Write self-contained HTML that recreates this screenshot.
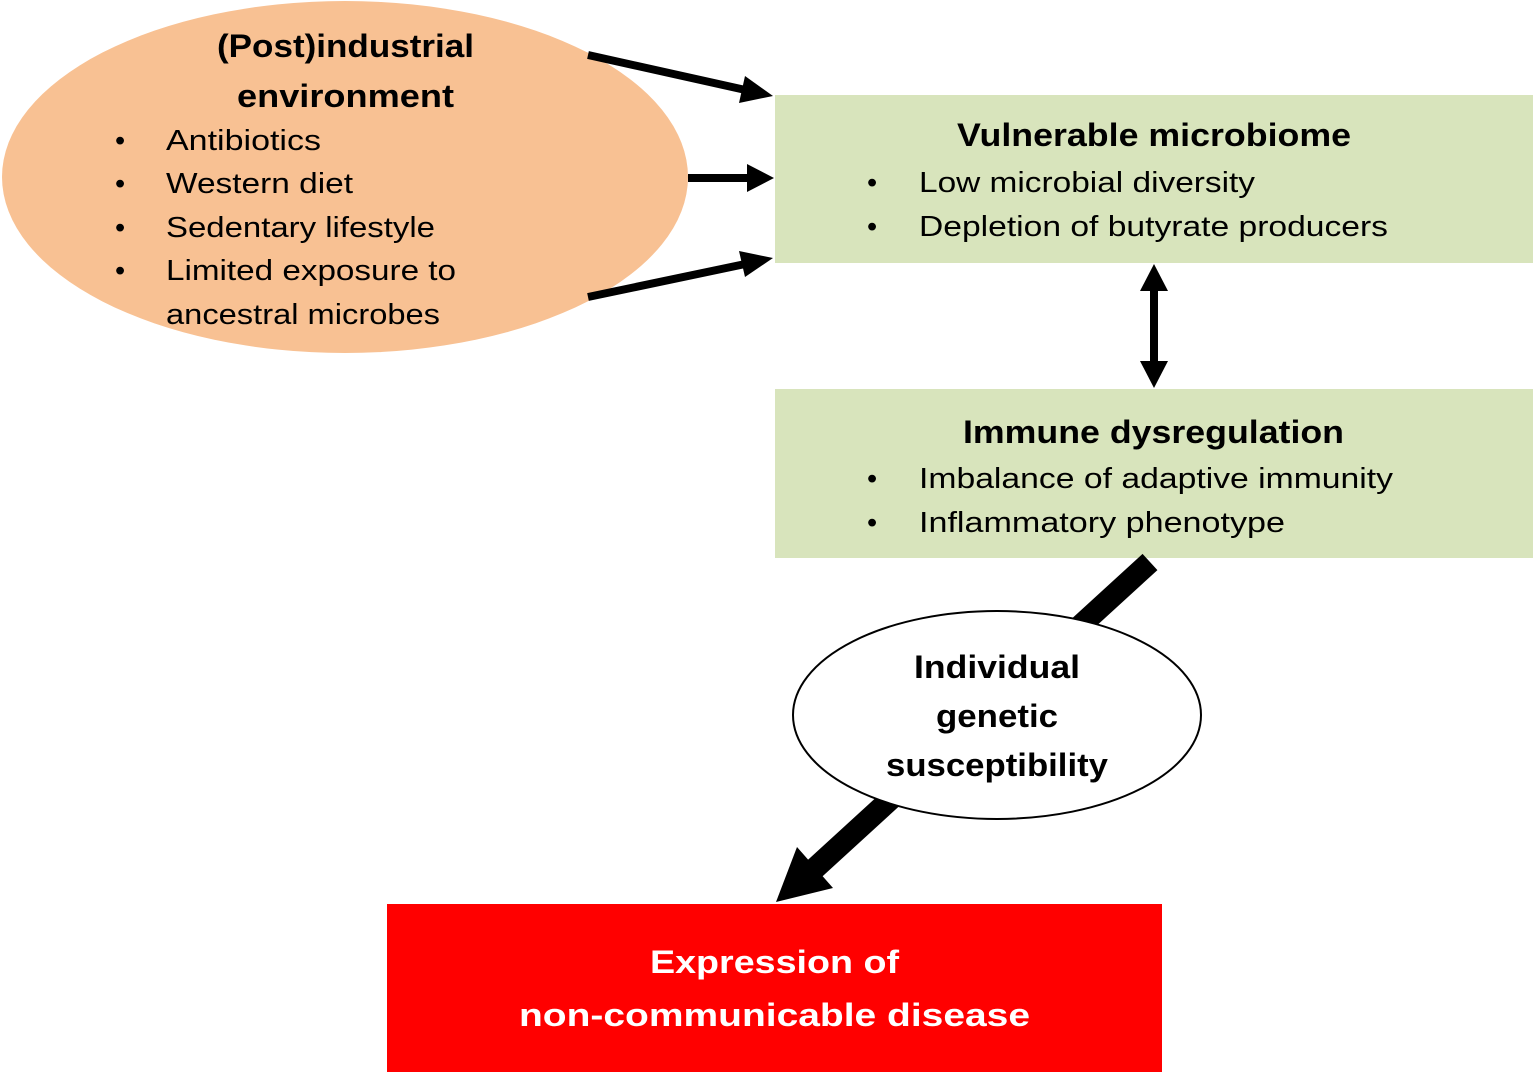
<!DOCTYPE html>
<html><head><meta charset="utf-8"><style>
html,body{margin:0;padding:0;background:#fff;}
svg{display:block;}
text{font-family:"Liberation Sans",sans-serif;fill:#000;}
</style></head><body>
<svg width="1535" height="1074" viewBox="0 0 1535 1074" xmlns="http://www.w3.org/2000/svg">
<ellipse cx="345" cy="177" rx="343" ry="176" fill="#F8C193"/>
<rect x="775" y="95" width="758" height="168" fill="#D8E4BC"/>
<rect x="775" y="389" width="758" height="169" fill="#D8E4BC"/>
<rect x="387" y="904" width="775" height="168" fill="#FF0000"/>
<g stroke="#000" stroke-width="8" fill="none">
<line x1="588" y1="55" x2="750" y2="91"/>
<line x1="688" y1="178" x2="748" y2="178"/>
<line x1="588" y1="297" x2="750" y2="263"/>
<line x1="1154" y1="288" x2="1154" y2="364"/>
</g>
<polygon points="773,96 745,76 739,103" fill="#000"/>
<polygon points="774,178 747,164 747,192" fill="#000"/>
<polygon points="773,258 739,251 745,277" fill="#000"/>
<polygon points="1154,264 1140,291 1168,291" fill="#000"/>
<polygon points="1154,388 1140,361 1168,361" fill="#000"/>
<line x1="1150" y1="562" x2="800" y2="882" stroke="#000" stroke-width="22"/>
<polygon points="776,902 797,847 833,888" fill="#000"/>
<ellipse cx="997" cy="715" rx="204" ry="104" fill="#fff" stroke="#000" stroke-width="2"/>
<g font-weight="bold" font-size="32" lengthAdjust="spacingAndGlyphs">
<text x="217" y="57" textLength="257" lengthAdjust="spacingAndGlyphs">(Post)industrial</text>
<text x="237" y="107" textLength="217" lengthAdjust="spacingAndGlyphs">environment</text>
<text x="957" y="146" textLength="394" lengthAdjust="spacingAndGlyphs">Vulnerable microbiome</text>
<text x="963" y="443" textLength="381" lengthAdjust="spacingAndGlyphs">Immune dysregulation</text>
<text x="914" y="678" textLength="166" lengthAdjust="spacingAndGlyphs">Individual</text>
<text x="936" y="727" textLength="122" lengthAdjust="spacingAndGlyphs">genetic</text>
<text x="886" y="776" textLength="222" lengthAdjust="spacingAndGlyphs">susceptibility</text>
<text x="650" y="973" textLength="249" lengthAdjust="spacingAndGlyphs" style="fill:#fff">Expression of</text>
<text x="519" y="1026" textLength="511" lengthAdjust="spacingAndGlyphs" style="fill:#fff">non-communicable disease</text>
</g>
<g font-size="29">
<text x="115" y="150">•</text><text x="166" y="150" textLength="155" lengthAdjust="spacingAndGlyphs">Antibiotics</text>
<text x="115" y="193">•</text><text x="166" y="193" textLength="187" lengthAdjust="spacingAndGlyphs">Western diet</text>
<text x="115" y="237">•</text><text x="166" y="237" textLength="269" lengthAdjust="spacingAndGlyphs">Sedentary lifestyle</text>
<text x="115" y="280">•</text><text x="166" y="280" textLength="290" lengthAdjust="spacingAndGlyphs">Limited exposure to</text>
<text x="166" y="324" textLength="274" lengthAdjust="spacingAndGlyphs">ancestral microbes</text>
<text x="867" y="192">•</text><text x="919" y="192" textLength="336" lengthAdjust="spacingAndGlyphs">Low microbial diversity</text>
<text x="867" y="236">•</text><text x="919" y="236" textLength="469" lengthAdjust="spacingAndGlyphs">Depletion of butyrate producers</text>
<text x="867" y="488">•</text><text x="919" y="488" textLength="474" lengthAdjust="spacingAndGlyphs">Imbalance of adaptive immunity</text>
<text x="867" y="532">•</text><text x="919" y="532" textLength="366" lengthAdjust="spacingAndGlyphs">Inflammatory phenotype</text>
</g>
</svg>
</body></html>
